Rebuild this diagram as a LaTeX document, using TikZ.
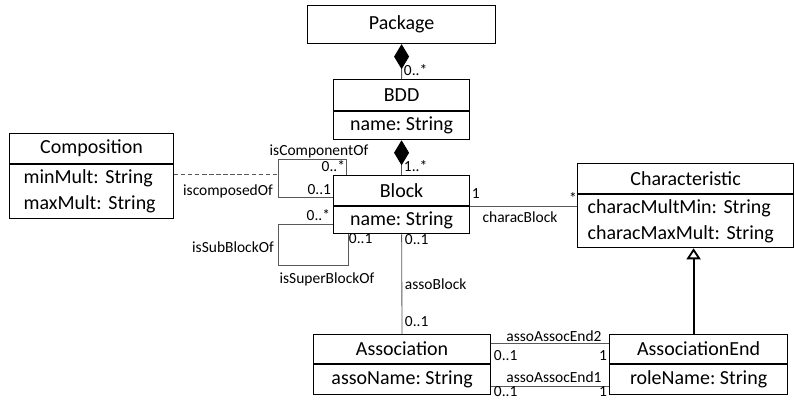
\documentclass[tikz,border=0pt]{standalone}
\usepackage{fontspec}
\setmainfont{Carlito}
\usepackage{xcolor}
\definecolor{edge}{gray}{0.35}
\frenchspacing
\tikzset{
  every node/.style={
    text=black
  },
  classhead/.style={draw, line width=0.8pt, inner sep=0pt, font=\fontsize{14.2}{18.5}\selectfont},
  classbody/.style={classhead},
  twoline/.style={text width=#1, align=left},
  lbl/.style={inner sep=0.5pt, font=\fontsize{11}{13}\selectfont},
  link/.style={draw=edge, line width=0.6pt}
}
\usetikzlibrary{positioning}
\usetikzlibrary{arrows.meta}
\usetikzlibrary{calc}

\begin{document}
\begin{tikzpicture}[x=0.025cm, y=-0.025cm]
    \useasboundingbox (0,0) rectangle (795,400);

    % classes
    \node[classhead, minimum width=4.7cm, minimum height=0.95cm, anchor=north west] (pkg) at (307,5) {Package};

    \node[classhead, minimum width=3.4cm, minimum height=0.775cm, anchor=north west] (bdd) at (333,79) {BDD};
    \node[classbody, minimum width=3.4cm, minimum height=0.7cm, below=0pt of bdd] (bddattr) {name: String};

    \node[classhead, minimum width=3.4cm, minimum height=0.75cm, anchor=north west] (block) at (333,175) {Block};
    \node[classbody, minimum width=3.4cm, minimum height=0.675cm, below=0pt of block] (blockattr) {name: String};

    \node[classhead, minimum width=4.1cm, minimum height=0.75cm, anchor=north west] (compo) at (9,133) {Composition};
    \node[classbody, twoline=3.4cm, inner xsep=0.35cm, minimum height=1.35cm, below=0pt of compo] (compoattr) {minMult: String\\maxMult: String};

    \node[classhead, minimum width=5.4cm, minimum height=0.75cm, anchor=north west] (charac) at (577,163) {Characteristic};
    \node[classbody, twoline=4.9cm, inner xsep=0.25cm, minimum height=1.325cm, below=0pt of charac] (characattr) {characMultMin: String\\characMaxMult: String};

    \node[classhead, minimum width=4.425cm, minimum height=0.725cm, anchor=north west] (assoc) at (313,334) {Association};
    \node[classbody, minimum width=4.425cm, minimum height=0.75cm, below=0pt of assoc] (assocattr) {assoName: String};

    \node[classhead, minimum width=4.45cm, minimum height=0.725cm, anchor=north west] (assocend) at (609,334) {AssociationEnd};
    \node[classbody, minimum width=4.45cm, minimum height=0.75cm, below=0pt of assocend] (assocendattr) {roleName: String};

    % compositions
    \draw[link, {Diamond[length=0.625cm, width=0.375cm, black]}-] (pkg) -- (bdd);
    \draw[link, {Diamond[length=0.625cm, width=0.375cm, black]}-] (bddattr) -- (block);
    \node[lbl, anchor=west] (mpkg) at (403,70) {0..*};
    \node[lbl, anchor=west] (mbdd) at (403,166) {1..*};

    % isComponentOf / iscomposedOf
    \draw[link] ($(block.south west)+(0,-9)$) -- ++(-55,0) coordinate (cmpside) |- ($(block.north west)+(13,-16)$) -- ($(block.north west)+(13,0)$);
    \draw[link, dash pattern=on 3pt off 2pt] ($(compoattr.north east)+(0,10)$) coordinate (cmpstart) -- (cmpstart -| cmpside);
    \node[lbl] (lcomp) at (319,151) {isComponentOf};
    \node[lbl, anchor=east] (mcomp) at (346,166) {0..*};
    \node[lbl] (lcomposed) at (228,191) {iscomposedOf};
    \node[lbl, anchor=east] (mcomposed) at (332,190) {0..1};

    % isSubBlockOf / isSuperBlockOf
    \draw[link] ($(blockattr.north west)+(0,18)$) -- ++(-55,0) |- ($(blockattr.south west)+(15,31)$) -- ($(blockattr.south west)+(15,0)$);
    \node[lbl, anchor=east] (msub) at (331,215) {0..*};
    \node[lbl] (lsub) at (233,247) {isSubBlockOf};
    \node[lbl, anchor=west] (msuper) at (348,239) {0..1};
    \node[lbl] (lsuper) at (327,279) {isSuperBlockOf};

    % assoBlock
    \draw[link] (blockattr) -- (assoc);
    \node[lbl, anchor=west] (mblk) at (404,240) {0..1};
    \node[lbl, anchor=west] (lasso) at (404,284) {assoBlock};
    \node[lbl, anchor=west] (massoc) at (404,322) {0..1};

    % characBlock
    \draw[link] (block.south east) -- (block.south east -| characattr.west);
    \node[lbl, anchor=west] (mone) at (471,194) {1};
    \node[lbl] (mstar) at (573,198) {*};
    \node[lbl] (lcharac) at (520,217) {characBlock};

    % generalization
    \coordinate (gen) at ($(characattr.south)+(8,0)$);
    \draw[line width=1.3pt, -{Triangle[open, length=0.275cm, width=0.35cm]}] (assocend.north -| gen) -- (gen);

    % assoAssocEnd1 / assoAssocEnd2
    \draw[link] ($(assoc.north east)+(0,9)$) -- ($(assocend.north west)+(0,9)$);
    \draw[link] ($(assocattr.south east)+(0,-9)$) -- ($(assocendattr.south west)+(0,-9)$);
    \node[lbl] (lend2) at (554,336) {assoAssocEnd2};
    \node[lbl, anchor=west] (mend2a) at (493,356) {0..1};
    \node[lbl, anchor=east] (mend2b) at (608,356) {1};
    \node[lbl] (lend1) at (554,377) {assoAssocEnd1};
    \node[lbl, anchor=west] (mend1a) at (493,392) {0..1};
    \node[lbl, anchor=east] (mend1b) at (608,392) {1};
\end{tikzpicture}
\end{document}
